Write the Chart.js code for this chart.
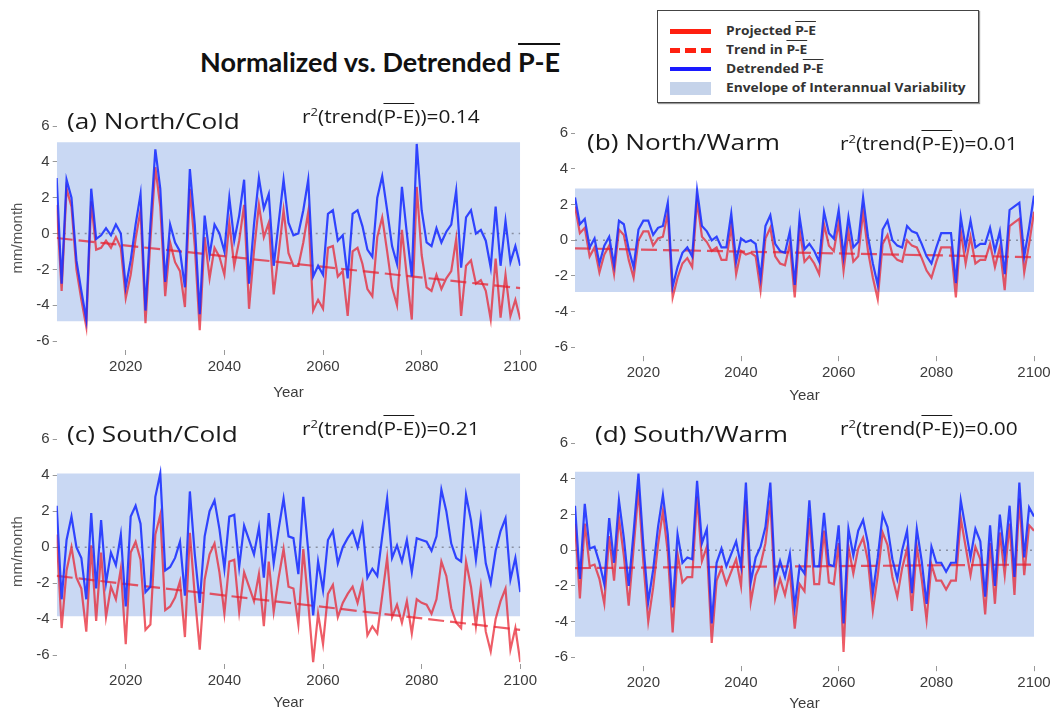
<!DOCTYPE html>
<html>
<head>
<meta charset="utf-8">
<script src="https://cdn.jsdelivr.net/npm/chart.js@4.4.1/dist/chart.umd.min.js"></script>
<style>
  body { margin: 0; background: #fff; width: 1054px; height: 713px; position: relative; overflow: hidden; font-family: Lato, "Liberation Sans", sans-serif; }
  canvas { position: absolute; }
  .txt { position: absolute; white-space: nowrap; line-height: 1; color: #1a1a1a; transform-origin: left center; }
  .ov { text-decoration: overline; }
  #title { left: 200px; top: 48px; font-size: 27px; font-weight: bold; color: #111; }
  .lab { font-family: "Open Sans", sans-serif; font-size: 22px; transform: scaleX(1.19); }
  .r2 { font-family: "Open Sans", sans-serif; font-size: 17.5px; transform: scaleX(1.19); }
  .r2 sup { font-size: 11px; vertical-align: 7px; line-height: 0; }
  #legend { position: absolute; left: 657px; top: 10px; width: 320px; height: 91px; border: 1.5px solid #444; box-shadow: 1px 1px 1px #999; background: #fff; }
  .row { position: absolute; left: 0; height: 16px; }
  .lt { position: absolute; left: 68px; top: 0; font-family: "Open Sans", sans-serif; font-size: 12.5px; font-weight: bold; color: #333; white-space: nowrap; line-height: 16px; transform: scaleX(1.1); transform-origin: left center; }
  .sw { position: absolute; left: 12px; width: 41px; }
</style>
</head>
<body>
<div id="title" class="txt">Normalized vs. Detrended <span class="ov">P-E</span></div>

<div id="legend">
  <div class="row" style="top:12px"><div class="sw" style="top:6px;height:4.5px;background:#ff2010"></div><div class="lt">Projected <span class="ov">P-E</span></div></div>
  <div class="row" style="top:31px"><div class="sw" style="top:6px;height:4.5px;background:repeating-linear-gradient(to right,#ff2010 0 10.5px,transparent 10.5px 15.5px)"></div><div class="lt">Trend in <span class="ov">P-E</span></div></div>
  <div class="row" style="top:49.5px"><div class="sw" style="top:6px;height:4.5px;background:#1a1aff"></div><div class="lt">Detrended <span class="ov">P-E</span></div></div>
  <div class="row" style="top:69px"><div class="sw" style="top:1.5px;height:13px;background:#c5d3ea"></div><div class="lt">Envelope of Interannual Variability</div></div>
</div>

<canvas id="cA" width="545" height="305" style="left:0;top:100px"></canvas>
<canvas id="cB" width="534" height="305" style="left:520px;top:100px"></canvas>
<canvas id="cC" width="545" height="303" style="left:0;top:410px"></canvas>
<canvas id="cD" width="534" height="303" style="left:520px;top:410px"></canvas>

<div class="txt lab" style="left:67px;top:109px">(a) North/Cold</div>
<div class="txt lab" style="left:587px;top:130px">(b) North/Warm</div>
<div class="txt lab" style="left:67px;top:422px">(c) South/Cold</div>
<div class="txt lab" style="left:595px;top:422px">(d) South/Warm</div>

<div class="txt r2" style="left:302px;top:108px">r<sup>2</sup>(trend(<span class="ov">P-E</span>))=0.14</div>
<div class="txt r2" style="left:840px;top:135px">r<sup>2</sup>(trend(<span class="ov">P-E</span>))=0.01</div>
<div class="txt r2" style="left:302px;top:420px">r<sup>2</sup>(trend(<span class="ov">P-E</span>))=0.21</div>
<div class="txt r2" style="left:840px;top:420px">r<sup>2</sup>(trend(<span class="ov">P-E</span>))=0.00</div>

<script>
const years = [];
for (let y = 2006; y <= 2100; y++) years.push(y);
const tickYears = [2020, 2040, 2060, 2080, 2100];
const yTicks = [-6, -4, -2, 0, 2, 4, 6];
const trendYears = [2006, 2100];

// (a) North/Cold
const detA = [
  3.1, -2.8, 3.0, 2.0, -1.5, -3.2, -4.8, 2.5, -0.3, -0.1,
  0.3, -0.1, 0.5, 0.0, -3.0, -1.5, 0.5, 2.2, -4.3, 0.5,
  4.7, 2.5, -2.7, 0.5, -0.5, -1.0, -3.0, 3.6, 0.5, -4.5,
  1.0, -1.2, 0.5, 0.0, -1.0, 2.0, -0.4, 1.0, 3.0, -2.8,
  0.5, 3.1, 1.4, 2.2, -1.8, 0.6, 3.0, 0.6, -0.1, 0.0,
  1.3, 3.0, -2.4, -1.8, -2.3, 1.1, 1.3, -0.4, -0.1, -2.5,
  1.1, 1.3, 0.4, -0.9, -1.3, 2.0, 3.2, 1.3, -0.7, -1.7,
  2.6, 0.0, -2.4, 5.0, 1.3, -0.5, -0.7, 0.3, -0.5, 0.1,
  0.5, 2.4, -1.9, 0.9, 1.3, 0.0, 0.2, -0.4, -1.9, 1.5,
  -1.8, 0.7, -1.6, -0.7, -1.8
];
const projA = [
  1.6, -3.2, 2.5, 1.5, -2.0, -3.7, -5.2, 1.8, -0.9, -0.8,
  -0.4, -0.8, -0.2, -0.8, -3.6, -2.3, -0.3, 1.3, -5.0, -0.4,
  3.7, 1.5, -3.5, -0.5, -1.6, -2.1, -4.1, 2.5, -0.7, -5.4,
  -0.2, -2.5, -0.8, -1.3, -2.3, 0.6, -1.8, -0.4, 1.6, -4.2,
  -1.0, 1.6, -0.2, 0.6, -3.4, -1.1, 1.3, -1.1, -1.8, -1.8,
  -0.5, 1.2, -4.3, -3.7, -4.2, -0.8, -0.7, -2.4, -2.1, -4.6,
  -1.0, -0.8, -1.7, -3.1, -3.5, -0.2, 0.9, -1.0, -3.0, -4.0,
  0.2, -2.4, -4.8, 2.6, -1.2, -3.0, -3.2, -2.3, -3.1, -2.5,
  -2.1, -0.3, -4.6, -1.8, -1.5, -2.8, -2.6, -3.2, -4.8, -1.4,
  -4.7, -2.3, -4.6, -3.7, -4.8
];
const trendA = [-0.25, -3.05];
const envA = [5.1, -4.9];

// (b) North/Warm
const detB = [
  2.4, 0.9, 1.2, -0.4, 0.1, -1.3, -0.3, 0.2, -1.4, 1.1,
  0.9, -0.5, -1.5, 0.6, 1.1, 1.1, 0.3, 0.7, 0.8, 2.1,
  -2.6, -1.5, -0.7, -0.4, -0.9, 2.8, 0.8, 0.5, 0.0, 0.2,
  -0.4, -0.4, 1.5, -1.2, 0.1, -0.1, 0.0, -0.2, -2.1, 0.8,
  1.4, -0.2, -0.6, -0.7, 0.5, -2.5, 1.3, -0.5, -0.2, -0.6,
  -1.2, 1.6, 0.4, 0.1, 1.7, -0.9, 1.3, -0.4, -0.1, 2.4,
  0.2, -1.3, -2.5, 0.6, 1.1, 0.0, -0.3, -0.4, 0.8, 0.5,
  0.4, -0.2, -0.9, -1.3, -0.4, 0.4, 0.4, 0.4, -2.4, 1.3,
  -0.4, 1.1, -0.4, -0.2, -0.2, 0.7, -0.6, 0.5, -1.9, 1.7,
  1.9, 2.1, -0.9, 0.7, 2.5
];
const projB = [
  1.9, 0.4, 0.7, -0.9, -0.4, -1.8, -0.8, -0.3, -1.9, 0.6,
  0.3, -1.1, -2.1, 0.0, 0.5, 0.5, -0.3, 0.1, 0.2, 1.5,
  -3.2, -2.1, -1.3, -1.0, -1.5, 2.2, 0.2, -0.1, -0.6, -0.4,
  -1.1, -1.1, 0.8, -1.9, -0.6, -0.8, -0.7, -0.9, -2.8, 0.1,
  0.7, -0.9, -1.3, -1.4, -0.2, -3.2, 0.6, -1.2, -0.9, -1.3,
  -1.9, 0.9, -0.3, -0.6, 1.0, -1.7, 0.5, -1.2, -0.9, 1.6,
  -0.6, -2.1, -3.3, -0.2, 0.3, -0.8, -1.1, -1.2, 0.0, -0.3,
  -0.4, -1.0, -1.7, -2.1, -1.2, -0.4, -0.4, -0.4, -3.2, 0.5,
  -1.3, 0.2, -1.3, -1.1, -1.1, -0.2, -1.5, -0.4, -2.8, 0.8,
  1.0, 1.2, -1.8, -0.2, 1.6
];
const trendB = [-0.45, -0.95];
const envB = [2.9, -2.9];

// (c) South/Cold
const detC = [
  2.3, -2.9, 0.4, 1.7, 0.0, -0.6, -2.9, 1.9, -2.3, 1.5,
  -2.0, -0.3, -1.0, 0.7, -3.3, 1.7, 2.3, 1.3, -2.5, -2.2,
  2.8, 4.1, -1.3, -1.1, -0.6, 0.3, -2.7, 3.1, -0.4, -3.1,
  0.6, 2.0, 2.6, 1.0, -1.2, 1.7, 1.8, -1.1, 1.2, 0.4,
  -0.4, 1.1, -1.7, 1.9, -0.9, 1.0, 2.7, 0.6, 0.5, -1.5,
  2.8, -0.2, -3.8, -0.8, -2.4, 0.4, 0.9, -0.9, 0.0, 0.5,
  0.9, 0.0, 1.2, -1.7, -1.2, -1.6, 0.6, 2.7, -0.6, 0.1,
  -0.8, 0.4, -1.4, 0.5, 0.4, 0.3, -0.2, 0.6, 3.2, 2.0,
  0.2, -0.6, -0.8, 2.9, 1.5, -0.7, 1.6, -0.9, -2.0, -0.2,
  0.9, 1.6, -1.8, -0.6, -2.5
];
const projC = [
  0.7, -4.5, -1.3, 0.0, -1.7, -2.3, -4.7, 0.1, -4.1, -0.3,
  -3.9, -2.2, -2.9, -1.2, -5.4, -0.3, 0.3, -0.7, -4.6, -4.3,
  0.7, 1.8, -3.5, -3.3, -2.8, -1.9, -5.0, 0.8, -2.7, -5.7,
  -1.8, -0.4, 0.2, -1.4, -3.7, -0.8, -0.7, -3.6, -1.4, -2.2,
  -3.0, -1.5, -4.4, -0.8, -3.6, -1.7, -0.1, -2.2, -2.3, -4.3,
  -0.1, -3.1, -6.4, -3.7, -5.4, -2.6, -2.1, -3.9, -3.1, -2.6,
  -2.2, -3.1, -2.0, -4.9, -4.4, -4.8, -2.7, -0.6, -3.9, -3.2,
  -4.2, -3.0, -4.8, -2.9, -3.1, -3.2, -3.7, -2.9, -0.8, -1.6,
  -3.4, -4.2, -4.5, -0.8, -2.2, -4.4, -2.2, -4.7, -5.8, -4.0,
  -3.0, -2.3, -5.7, -4.5, -6.4
];
const trendC = [-1.6, -4.6];
const envC = [4.1, -3.85];

// (d) South/Warm
const detD = [
  2.5, -1.6, 2.6, 0.1, 0.2, -0.7, -1.9, 1.8, -0.7, 2.8,
  0.7, -2.0, 1.0, 4.3, 0.3, -2.9, -1.1, 1.3, 3.1, 0.9,
  -3.2, 0.9, -0.7, -0.4, -0.5, 3.9, 0.4, 1.2, -4.1, -0.7,
  0.1, -0.9, -0.2, 0.5, -0.9, 3.8, -1.8, -0.4, 0.2, 1.3,
  3.8, -1.7, -0.6, -1.5, -0.2, -3.2, -0.9, -1.3, 2.8, -0.9,
  -0.9, 2.1, -0.8, -0.9, 1.4, -4.1, 1.2, -0.3, 1.1, 1.7,
  0.4, -2.4, -0.4, 2.0, 1.3, -0.5, -1.6, 0.0, 1.1, -2.4,
  1.2, -0.6, -3.0, 0.2, -0.7, -0.7, -1.2, -0.7, -0.7, 2.8,
  1.2, -0.4, 1.2, 0.5, -2.6, 1.4, -2.0, 2.0, -0.4, 2.5,
  -1.5, 3.8, -0.4, 2.4, 1.9
];
const projD = [
  1.5, -2.7, 1.5, -0.9, -0.8, -1.6, -3.0, 0.8, -1.7, 1.8,
  -0.3, -3.1, 0.1, 3.4, -0.7, -4.0, -2.1, 0.3, 2.2, -0.1,
  -4.6, -0.2, -1.8, -1.5, -1.5, 3.0, -0.6, 0.2, -5.2, -1.7,
  -1.0, -1.9, -1.2, -0.5, -2.0, 2.8, -2.9, -1.4, -0.8, 0.4,
  2.8, -2.7, -1.6, -2.5, -1.2, -4.4, -1.9, -2.3, 1.8, -1.9,
  -1.9, 1.1, -1.8, -1.9, 0.4, -5.7, 0.2, -1.3, 0.1, 0.7,
  -0.6, -3.4, -1.4, 1.0, 0.3, -1.5, -2.6, -1.0, 0.1, -3.4,
  0.2, -1.6, -3.9, -0.8, -1.7, -1.7, -2.2, -1.7, -1.7, 1.8,
  0.2, -1.4, 0.2, -0.5, -3.6, 0.4, -3.0, 1.0, -1.4, 1.5,
  -2.5, 2.9, -1.4, 1.4, 1.1
];
const trendD = [-1.0, -0.8];
const envD = [4.4, -4.85];

const BLUE = "rgba(25, 45, 255, 0.88)";
const RED = "rgba(232, 30, 45, 0.72)";
const ENV = "#c9d8f3";
const TICK = "#3c3c3c";

function pts(xs, ys) {
  return ys.map((v, i) => ({ x: xs[i], y: v }));
}

function panel(id, det, proj, trend, env, box) {
  new Chart(document.getElementById(id), {
    type: "line",
    data: {
      datasets: [
        { data: pts(years, det), borderColor: BLUE, borderWidth: 2.2, pointRadius: 0 },
        { data: pts(trendYears, trend), borderColor: RED, borderWidth: 2.2, borderDash: [16, 6], pointRadius: 0 },
        { data: pts(years, proj), borderColor: RED, borderWidth: 2.2, pointRadius: 0 },
        { data: pts(trendYears, [0, 0]), borderColor: "rgba(120,125,140,0.8)", borderWidth: 1.5, borderDash: [2, 5], pointRadius: 0 },
        { data: pts(trendYears, [env[0], env[0]]), borderWidth: 0, borderColor: "rgba(0,0,0,0)", backgroundColor: ENV, fill: { value: env[1] }, pointRadius: 0 },
      ],
    },
    options: {
      responsive: false,
      animation: false,
      events: [],
      layout: { padding: { top: box.top, right: box.right, left: 0, bottom: 0 } },
      plugins: { legend: { display: false }, tooltip: { enabled: false } },
      scales: {
        x: {
          type: "linear",
          min: 2006,
          max: 2100,
          afterBuildTicks: (s) => { s.ticks = tickYears.map((v) => ({ value: v })); },
          afterFit: (s) => { s.height = box.xh; },
          border: { display: false },
          grid: { drawOnChartArea: false, tickLength: 5, color: "#999" },
          ticks: { color: TICK, font: { family: "Liberation Sans", size: 15 }, padding: 3, maxRotation: 0, callback: (v) => String(v) },
          title: { display: true, text: "Year", color: TICK, font: { family: "Liberation Sans", size: 15 }, padding: { top: 0, bottom: box.tb } },
        },
        y: {
          min: -6.5,
          max: 6,
          afterBuildTicks: (s) => { s.ticks = yTicks.map((v) => ({ value: v })); },
          afterFit: (s) => { s.width = box.yw; },
          border: { display: false },
          grid: { drawOnChartArea: false, tickLength: 4, color: "#999" },
          ticks: { color: TICK, font: { family: "Liberation Sans", size: 15 }, padding: 3 },
          title: { display: box.ytitle, text: "mm/month", color: "#555", font: { family: "Liberation Sans", size: 15 }, padding: { top: 9, bottom: 0 } },
        },
      },
    },
  });
}

panel("cA", detA, projA, trendA, envA, { top: 26, right: 24.7, yw: 56.7, xh: 55, tb: 3, ytitle: true });
panel("cB", detB, projB, trendB, envB, { top: 33.3, right: 20, yw: 55, xh: 48.8, tb: 0, ytitle: false });
panel("cC", detC, projC, trendC, envC, { top: 29.3, right: 24.7, yw: 56.7, xh: 49, tb: 1, ytitle: true });
panel("cD", detD, projD, trendD, envD, { top: 33.3, right: 20, yw: 55, xh: 46.8, tb: 0, ytitle: false });
</script>
</body>
</html>
